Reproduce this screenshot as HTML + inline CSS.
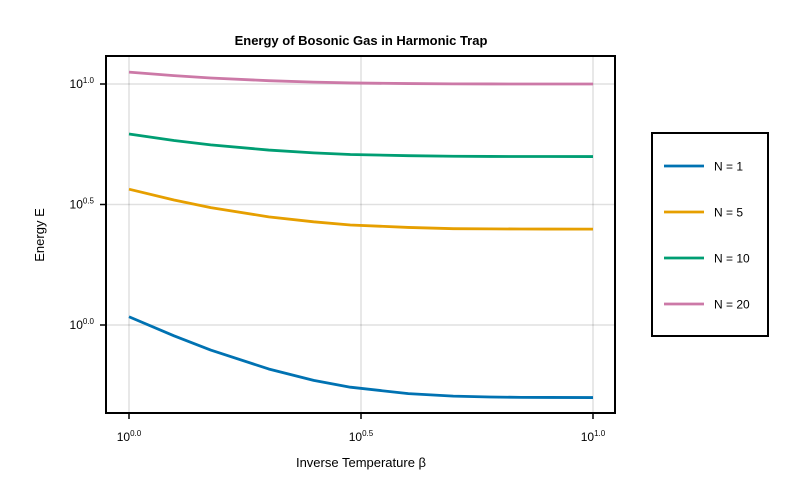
<!DOCTYPE html>
<html><head><meta charset="utf-8"><style>
body{margin:0;background:#fff;}
svg{display:block;font-family:"Liberation Sans",sans-serif;}
</style></head><body>
<svg id="chart" width="800" height="500" viewBox="0 0 800 500">
<rect width="800" height="500" fill="#fff"/>
<text x="361" y="45" text-anchor="middle" font-size="13" font-weight="bold">Energy of Bosonic Gas in Harmonic Trap</text>
<g id="grid"></g>
<g id="series"></g>
<rect x="106" y="56" width="509" height="357" fill="none" stroke="#000" stroke-width="2"/>
<g id="ticks"></g>
<text x="361" y="467" text-anchor="middle" font-size="13">Inverse Temperature β</text>
<text transform="translate(44,235) rotate(-90)" text-anchor="middle" font-size="13">Energy E</text>
<g>
<rect x="652" y="133" width="116" height="203" fill="#fff" stroke="#000" stroke-width="2"/>
<g id="legend"></g>
</g>
</svg>
<script>
const betas = [1, 1.25, 1.5, 2, 2.5, 3, 4, 5, 6, 7, 8, 10];
const seriesNames = ["N = 1", "N = 5", "N = 10", "N = 20"];
const energyN1 = [1.082, 0.902, 0.787, 0.657, 0.589, 0.552, 0.519, 0.507, 0.5025, 0.501, 0.5004, 0.5];
const energyN5 = [3.66, 3.30, 3.07, 2.81, 2.68, 2.60, 2.54, 2.51, 2.505, 2.502, 2.501, 2.5];
const energyN10 = [6.2, 5.83, 5.59, 5.32, 5.18, 5.10, 5.04, 5.015, 5.005, 5.002, 5.001, 5.0];
const energyN20 = [11.2, 10.83, 10.59, 10.32, 10.18, 10.10, 10.04, 10.015, 10.005, 10.002, 10.001, 10.0];
const xTickExps = [0.0, 0.5, 1.0];
const yTickExps = [0.0, 0.5, 1.0];
const xTickLabels = ["0.0", "0.5", "1.0"];
const yTickLabels = ["0.0", "0.5", "1.0"];

const colors = ["#0072b2", "#e69f00", "#009e73", "#cc79a7"];
const allSeries = [energyN1, energyN5, energyN10, energyN20];
const NS = "http://www.w3.org/2000/svg";
function xs(b){ return 129 + Math.log10(b) * 464; }
function ysExp(e){ return 325 - e * 241; }
function ys(v){ return ysExp(Math.log10(v)); }
function mk(tag, attrs, parent){ const el = document.createElementNS(NS, tag); for (const k in attrs) el.setAttribute(k, attrs[k]); parent.appendChild(el); return el; }

const grid = document.getElementById("grid");
const ticks = document.getElementById("ticks");
xTickExps.forEach((e, i) => {
  const x = xs(Math.pow(10, e));
  const g = mk("line", {x1:x, x2:x, y1:56, y2:413, stroke:"#000", "stroke-opacity":0.12, "stroke-width":1.5}, grid);
  
  
  const t = mk("line", {x1:x, x2:x, y1:413, y2:419, stroke:"#000", "stroke-width":1.5}, ticks);
  
  
  const tx = mk("text", {x:x, y:441, "text-anchor":"middle", "font-size":12}, ticks);
  
  
  tx.innerHTML = '10<tspan font-size="8" dy="-5">' + xTickLabels[i] + '</tspan>';
});
yTickExps.forEach((e, i) => {
  const y = ysExp(e);
  const g = mk("line", {x1:106, x2:615, y1:y, y2:y, stroke:"#000", "stroke-opacity":0.12, "stroke-width":1.5}, grid);
  
  
  const t = mk("line", {x1:100, x2:106, y1:y, y2:y, stroke:"#000", "stroke-width":1.5}, ticks);
  
  
  const tx = mk("text", {x:94, y:y+4, "text-anchor":"end", "font-size":12}, ticks);
  
  
  tx.innerHTML = '10<tspan font-size="8" dy="-5">' + yTickLabels[i] + '</tspan>';
});

const sg = document.getElementById("series");
allSeries.forEach((vals, si) => {
  const pts = vals.map((v, i) => xs(betas[i]).toFixed(2) + "," + ys(v).toFixed(2)).join(" ");
  const p = mk("polyline", {points:pts, fill:"none", stroke:colors[si], "stroke-width":2.8, "stroke-linejoin":"round"}, sg);
  
  
});

const lg = document.getElementById("legend");
seriesNames.forEach((name, i) => {
  const y = 166 + i * 46;
  const l = mk("line", {x1:664, x2:704, y1:y, y2:y, stroke:colors[i], "stroke-width":2.8}, lg);
  
  
  const t = mk("text", {x:714, y:y+4.5, "font-size":12}, lg);
  
  
  t.textContent = name;
});
</script>
</body></html>
